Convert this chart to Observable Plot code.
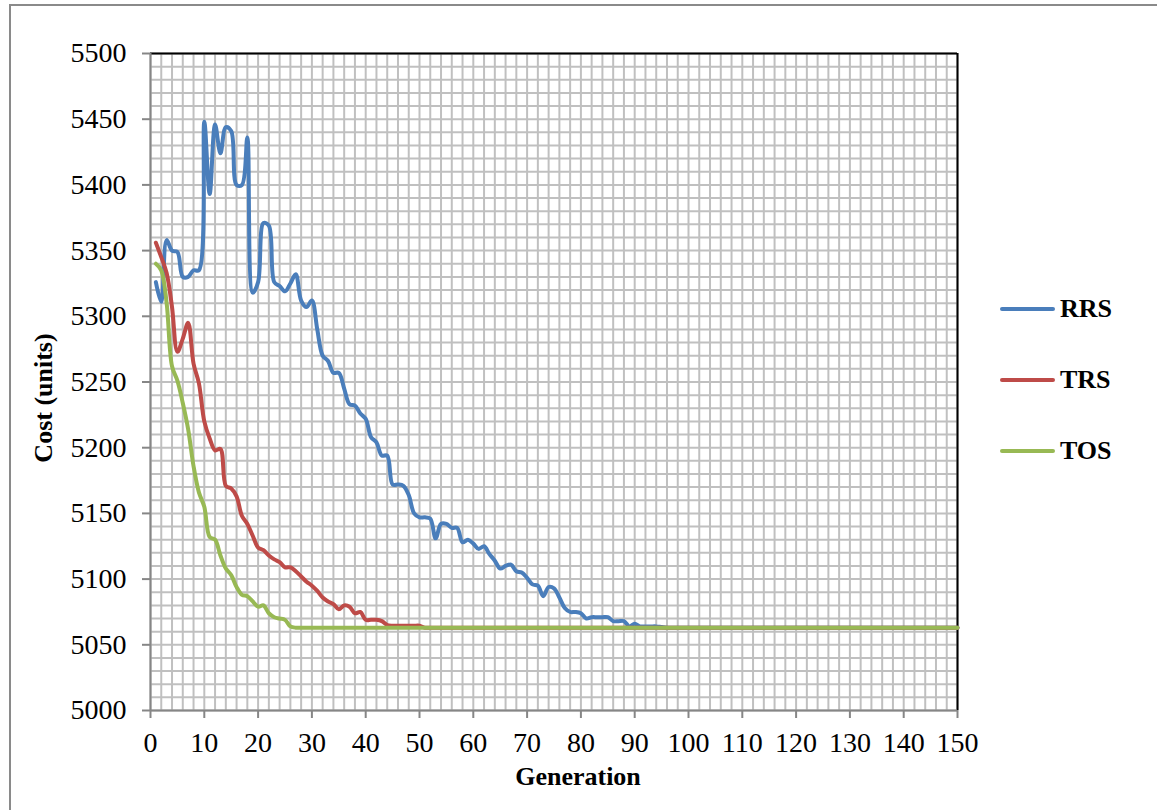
<!DOCTYPE html>
<html>
<head>
<meta charset="utf-8">
<script src="https://cdn.jsdelivr.net/npm/d3@7"></script>
<script src="https://cdn.jsdelivr.net/npm/@observablehq/plot@0.6"></script>
<style>
  html, body { margin: 0; padding: 0; background: #fff; overflow: hidden; }
  #wrap { position: relative; width: 1157px; height: 810px; }
  #border { position: absolute; left: 9px; top: 4px; width: 1200px; height: 900px; border: 2px solid #8a8a8a; box-sizing: border-box; }
  #chart { position: absolute; left: 0; top: 0; }
  .leg { position: absolute; left: 1000px; height: 30px; display: flex; align-items: center; font-family: "Liberation Serif", "Times New Roman", serif; font-weight: bold; font-size: 26px; color: #000; }
  .leg span.sw { display: inline-block; width: 55px; height: 4px; border-radius: 2px; margin-right: 5px; }
</style>
</head>
<body>
<div id="wrap">
  <div id="border"></div>
  <div id="chart"></div>
  <div id="legend"></div>
</div>
<script>
// ---- data ----
const seriesNames = ["RRS", "TRS", "TOS"];
const seriesColors = ["#4a7ebb", "#be4b48", "#98b954"];
const generations = d3.range(1, 151);

const rrs = [
  5326, 5311, 5358, 5350, 5349, 5330, 5330, 5335, 5335, 5448,
  5393, 5446, 5424, 5444, 5441, 5400, 5400, 5436, 5318, 5326,
  5371, 5369, 5326, 5323, 5319, 5325, 5332, 5312, 5307, 5312,
  5290, 5270, 5266, 5257, 5257, 5245, 5233, 5232, 5226, 5222,
  5208, 5204, 5194, 5194, 5172, 5172, 5171, 5164, 5150, 5147,
  5147, 5146, 5131, 5142, 5142, 5139, 5139, 5128, 5130, 5127,
  5123, 5125, 5119, 5114, 5108, 5110, 5111, 5106, 5105, 5101,
  5096, 5095, 5087, 5094, 5093, 5086, 5078, 5075, 5075, 5074,
  5070, 5071, 5071, 5071, 5071, 5068, 5068, 5068, 5064, 5066,
  5064, 5064, 5064, 5064, 5063.5, 5063, 5063, 5063, 5063, 5063,
  5063, 5063, 5063, 5063, 5063, 5063, 5063, 5063, 5063, 5063,
  5063, 5063, 5063, 5063, 5063, 5063, 5063, 5063, 5063, 5063,
  5063, 5063, 5063, 5063, 5063, 5063, 5063, 5063, 5063, 5063,
  5063, 5063, 5063, 5063, 5063, 5063, 5063, 5063, 5063, 5063,
  5063, 5063, 5063, 5063, 5063, 5063, 5063, 5063, 5063, 5063
];
const trs = [
  5356, 5345, 5333, 5307, 5273, 5283, 5295, 5264, 5249, 5220,
  5207, 5198, 5199, 5171, 5169, 5163, 5148, 5142, 5133, 5124,
  5122, 5118, 5115, 5113, 5109, 5109, 5106, 5102, 5098, 5095,
  5091, 5086, 5083, 5081, 5077, 5080, 5079, 5074, 5075, 5069,
  5069, 5069, 5068, 5065, 5064.5, 5064.5, 5064.5, 5064.5, 5064.5, 5064.5,
  5063, 5063, 5063, 5063, 5063, 5063, 5063, 5063, 5063, 5063,
  5063, 5063, 5063, 5063, 5063, 5063, 5063, 5063, 5063, 5063,
  5063, 5063, 5063, 5063, 5063, 5063, 5063, 5063, 5063, 5063,
  5063, 5063, 5063, 5063, 5063, 5063, 5063, 5063, 5063, 5063,
  5063, 5063, 5063, 5063, 5063, 5063, 5063, 5063, 5063, 5063,
  5063, 5063, 5063, 5063, 5063, 5063, 5063, 5063, 5063, 5063,
  5063, 5063, 5063, 5063, 5063, 5063, 5063, 5063, 5063, 5063,
  5063, 5063, 5063, 5063, 5063, 5063, 5063, 5063, 5063, 5063,
  5063, 5063, 5063, 5063, 5063, 5063, 5063, 5063, 5063, 5063,
  5063, 5063, 5063, 5063, 5063, 5063, 5063, 5063, 5063, 5063
];
const tos = [
  5340, 5335, 5310, 5262, 5251, 5234, 5214, 5186, 5166, 5155,
  5132, 5130, 5118, 5108, 5103, 5094, 5088, 5087, 5083, 5079,
  5080, 5074, 5071, 5070, 5069, 5064, 5063, 5063, 5063, 5063,
  5063, 5063, 5063, 5063, 5063, 5063, 5063, 5063, 5063, 5063,
  5063, 5063, 5063, 5063, 5063, 5063, 5063, 5063, 5063, 5063,
  5063, 5063, 5063, 5063, 5063, 5063, 5063, 5063, 5063, 5063,
  5063, 5063, 5063, 5063, 5063, 5063, 5063, 5063, 5063, 5063,
  5063, 5063, 5063, 5063, 5063, 5063, 5063, 5063, 5063, 5063,
  5063, 5063, 5063, 5063, 5063, 5063, 5063, 5063, 5063, 5063,
  5063, 5063, 5063, 5063, 5063, 5063, 5063, 5063, 5063, 5063,
  5063, 5063, 5063, 5063, 5063, 5063, 5063, 5063, 5063, 5063,
  5063, 5063, 5063, 5063, 5063, 5063, 5063, 5063, 5063, 5063,
  5063, 5063, 5063, 5063, 5063, 5063, 5063, 5063, 5063, 5063,
  5063, 5063, 5063, 5063, 5063, 5063, 5063, 5063, 5063, 5063,
  5063, 5063, 5063, 5063, 5063, 5063, 5063, 5063, 5063, 5063
];
const xTicks = [0, 10, 20, 30, 40, 50, 60, 70, 80, 90, 100, 110, 120, 130, 140, 150];
const yTicks = [5000, 5050, 5100, 5150, 5200, 5250, 5300, 5350, 5400, 5450, 5500];
const xTitle = "Generation";
const yTitle = "Cost (units)";

// ---- table ----
const seriesValues = [rrs, trs, tos];
const rows = [];
seriesNames.forEach((name, i) => {
  generations.forEach((g, j) => rows.push({ series: name, generation: g, cost: seriesValues[i][j] }));
});

const font = "Liberation Serif, Times New Roman, serif";
const gridColor = "#c0c0c0";
const axisColor = "#868686";

const chart = Plot.plot({
  width: 1157,
  height: 810,
  marginLeft: 150,
  marginRight: 200,
  marginTop: 53,
  marginBottom: 100,
  style: { fontFamily: font, fontSize: "26px", color: "#000", background: "transparent", overflow: "visible" },
  x: { domain: [0, 150] },
  y: { domain: [5000, 5500] },
  color: { domain: seriesNames, range: seriesColors },
  marks: [
    Plot.gridX(d3.range(0, 151, 2), { stroke: gridColor, strokeOpacity: 1, strokeWidth: 2 }),
    Plot.gridY(d3.range(5000, 5501, 10), { stroke: gridColor, strokeOpacity: 1, strokeWidth: 2 }),
    Plot.ruleY([5500], { stroke: "#000", strokeWidth: 2 }),
    Plot.ruleX([150], { stroke: "#000", strokeWidth: 2 }),
    Plot.ruleX([0], { stroke: axisColor, strokeWidth: 2 }),
    Plot.ruleY([5000], { stroke: axisColor, strokeWidth: 2 }),
    Plot.axisX(xTicks, { tickSize: 8, tickPadding: 14, stroke: axisColor, strokeWidth: 2, fill: "#000", fontSize: 28, fontFamily: font, label: null }),
    Plot.axisY(yTicks, { tickSize: 8, tickPadding: 16, stroke: axisColor, strokeWidth: 2, fill: "#000", fontSize: 28, fontFamily: font, label: null, tickFormat: d => String(d) }),
    Plot.line(rows, {
      x: "generation", y: "cost", z: "series", stroke: "series",
      strokeWidth: 4, curve: "catmull-rom", strokeLinecap: "round", strokeLinejoin: "round"
    }),
    Plot.text([xTitle], { frameAnchor: "bottom", dy: 66, dx: 24, fontWeight: "bold", fontSize: 26, fontFamily: font, fill: "#000", lineAnchor: "middle", textAnchor: "middle" }),
    Plot.text([yTitle], { frameAnchor: "left", dx: -107, dy: 16, rotate: -90, fontWeight: "bold", fontSize: 26, fontFamily: font, fill: "#000", lineAnchor: "middle", textAnchor: "middle" })
  ]
});
document.getElementById("chart").appendChild(chart);

// ---- legend ----
const legendTops = { RRS: 294, TRS: 365, TOS: 436 };
const legend = document.getElementById("legend");
seriesNames.forEach((name, i) => {
  const d = document.createElement("div");
  d.className = "leg";
  d.style.top = legendTops[name] + "px";
  d.innerHTML = `<span class="sw" style="background:${seriesColors[i]}"></span>${name}`;
  legend.appendChild(d);
});
</script>
</body>
</html>
